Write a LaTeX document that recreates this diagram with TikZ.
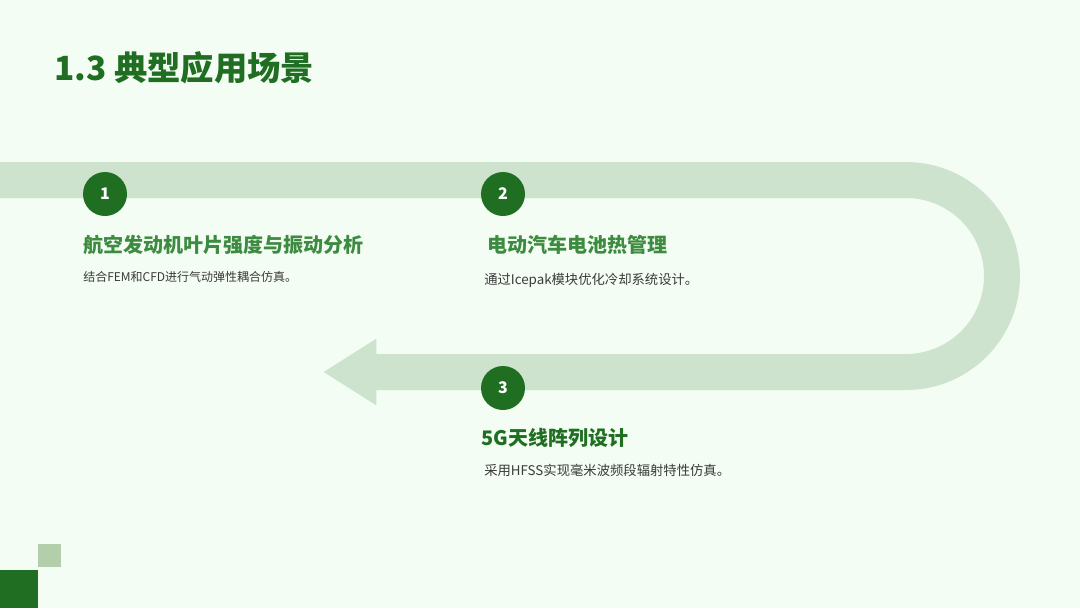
\documentclass[tikz,border=0pt]{standalone}
\usepackage{fontspec}
\setmainfont{Noto Sans CJK SC}
\usetikzlibrary{arrows.meta,positioning}
\usepackage{xcolor}
\definecolor{bgpale}{HTML}{F3FDF3}
\definecolor{bandgreen}{HTML}{CDE3CD}
\definecolor{deepgreen}{HTML}{1F6E22}
\definecolor{midgreen}{HTML}{3D8B40}
\definecolor{softgreen}{HTML}{B3CEAA}
\definecolor{bodygray}{HTML}{3A3A3A}

\begin{document}
\begin{tikzpicture}[
    x=0.75pt, y=-0.75pt,
    badge/.style={circle, fill=deepgreen, minimum size=33pt, inner sep=0pt, text=white, font=\fontsize{12}{14}\selectfont\bfseries},
    head/.style={anchor=west, inner sep=0pt, font=\fontsize{15}{18}\selectfont\bfseries},
    desc/.style={anchor=west, inner sep=0pt, text=bodygray, font=\fontsize{10}{12}\selectfont},
    band/.style={draw=bandgreen, line width=27pt, -{Triangle[length=40pt, width=47pt]}}
]
\useasboundingbox (0,0) rectangle (1080,608);
\fill[bgpale] (0,0) rectangle (1080,608);

% title
\node[anchor=west, inner sep=0pt, text=deepgreen, font=\fontsize{25}{30}\selectfont\bfseries] (title) at (54,68) {1.3 典型应用场景};

% the winding band
\coordinate (start) at (-10,180);
\coordinate (tip) at (323,372);
\draw[band] (start) -- (906,180) arc[start angle=-90, end angle=90, radius=96] -- (tip);

% steps
\node[badge] (b1) at (105,194) {1};
\node[badge] (b2) at (503,194) {2};
\node[badge] (b3) at (503,388) {3};

\node[head, text=midgreen] (h1) at (83,245) {航空发动机叶片强度与振动分析};
\node[desc, font=\fontsize{9}{11}\selectfont] (d1) at (83,277) {结合FEM和CFD进行气动弹性耦合仿真。};

\node[head, text=midgreen] (h2) at (487,245) {电动汽车电池热管理};
\node[desc] (d2) at (484,280) {通过Icepak模块优化冷却系统设计。};

\node[head, text=deepgreen] (h3) at (481,438) {5G天线阵列设计};
\node[desc] (d3) at (484,470) {采用HFSS实现毫米波频段辐射特性仿真。};

% corner squares
\fill[deepgreen] (0,570) rectangle (38,608);
\fill[softgreen] (38,544) rectangle (61,567);
\end{tikzpicture}
\end{document}
